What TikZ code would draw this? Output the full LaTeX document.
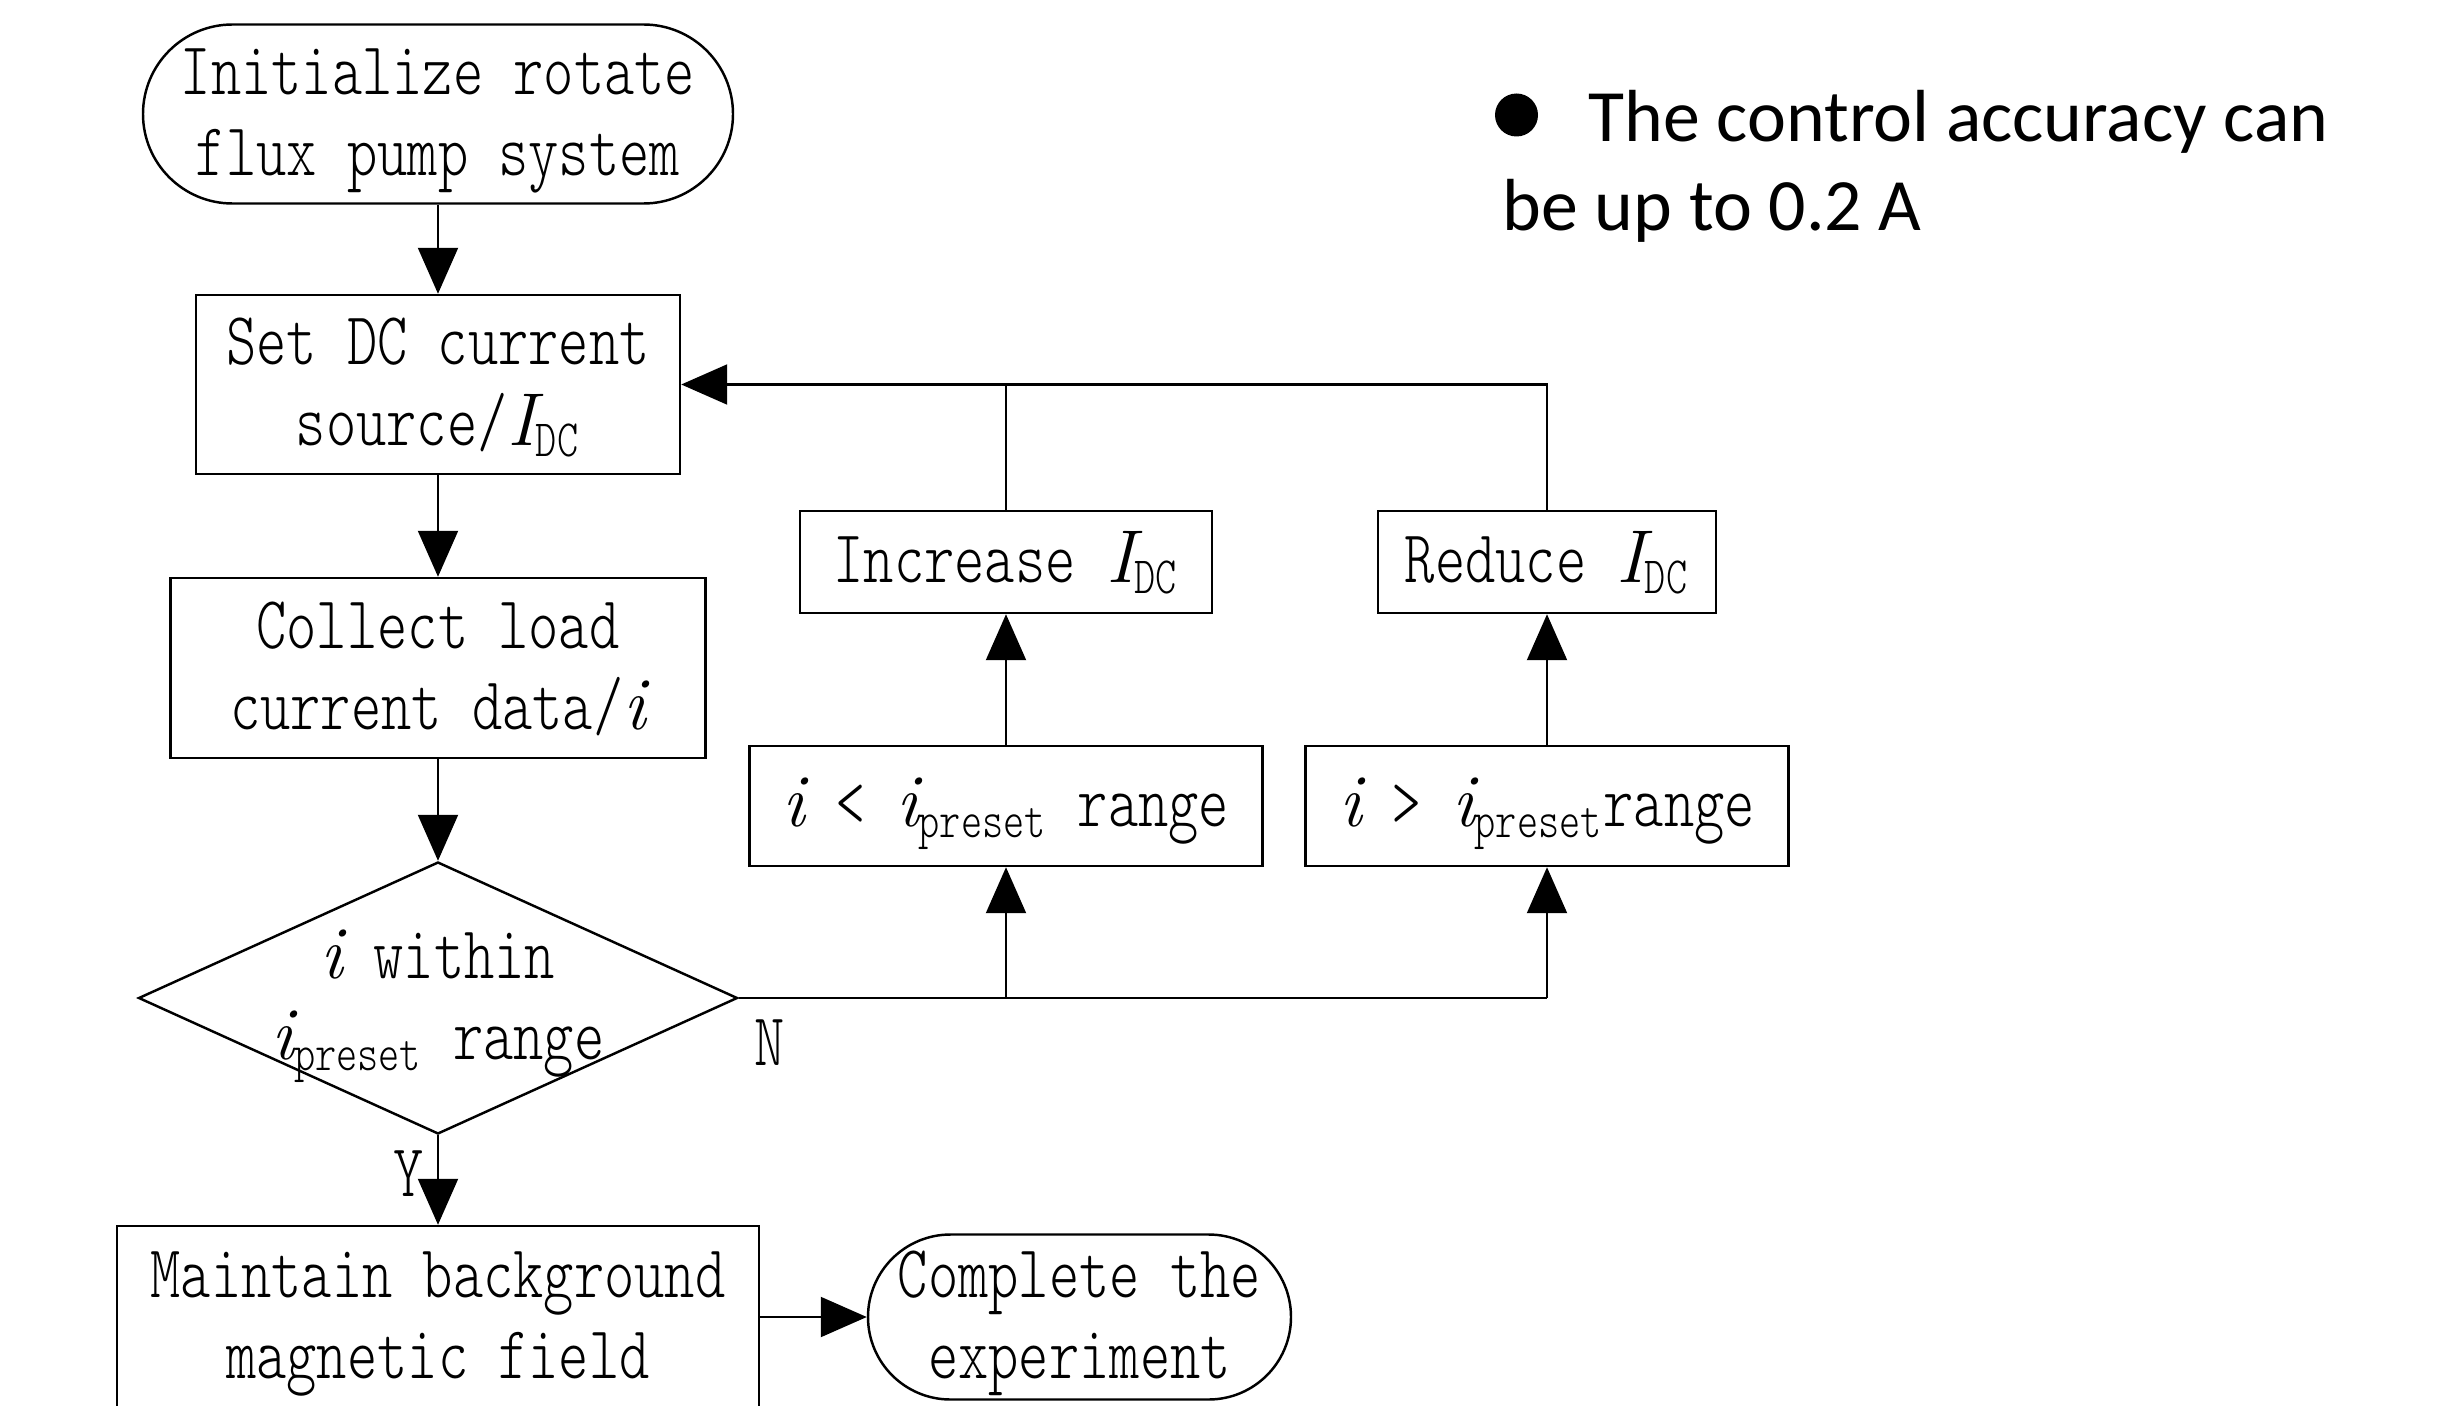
\documentclass[tikz,border=0pt]{standalone}
\usepackage{fontspec}
\usetikzlibrary{arrows.meta,shapes.geometric}
% narrow light serif monospace for the flowchart, serif italic for symbols, sans for the note
\newfontfamily\flowfont[FakeStretch=0.77]{lmmonolt10-regular.otf}
\newfontfamily\notefont{Carlito}
\newcommand\vI{{\rmfamily\itshape I}}
\newcommand\vi{{\rmfamily\itshape i}}
\newcommand\Idc{\vI\textsubscript{DC}}
\newcommand\ipre{\vi\textsubscript{preset}}
% centred lines of a box, drawn a little low while keeping the box size
\newcommand\ftext[1]{\raisebox{-0.045cm}[\height][\depth]{\begin{tabular}{@{}c@{}}#1\end{tabular}}}

\tikzset{
  base/.style={draw, line width=0.7pt, inner sep=0pt,
    font=\flowfont\fontsize{21.3pt}{23pt}\selectfont},
  term/.style={base, rounded corners=#1},
  proc/.style={base, rectangle},
  decision/.style={draw, line width=0.7pt, diamond, inner sep=0pt,
    minimum width=5.99cm, minimum height=2.72cm},
  lbl/.style={inner sep=0pt, font=\flowfont\fontsize{21.3pt}{23pt}\selectfont},
  flowarrow/.style={-{Triangle[length=0.46cm,width=0.40cm]}, line width=0.6pt},
  flowline/.style={line width=0.6pt},
}

\begin{document}
\begin{tikzpicture}
\useasboundingbox (0,0) rectangle (24.45,-14.06);

% main column
\node[term=0.895cm, minimum width=5.90cm, minimum height=1.79cm] (start) at (4.38,-1.14)
  {\ftext{Initialize rotate\\flux pump system}};
\node[proc, minimum width=4.84cm, minimum height=1.79cm] (set) at (4.38,-3.845)
  {\ftext{Set DC current\\source/\Idc}};
\node[proc, minimum width=5.35cm, minimum height=1.80cm] (collect) at (4.38,-6.68)
  {\ftext{Collect load\\current data/\vi}};
\node[decision] (dec) at (4.38,-9.98) {};
\node[lbl] (dectext) at (4.38,-9.98) {\ftext{\vi{} within\\\ipre{} range}};
\node[proc, minimum width=6.42cm, minimum height=1.82cm] (maintain) at (4.38,-13.17)
  {\ftext{Maintain background\\magnetic field}};
\node[term=0.825cm, minimum width=4.23cm, minimum height=1.65cm] (complete) at (10.795,-13.17)
  {\ftext{Complete the\\experiment}};

% correction branch
\node[proc, minimum width=5.13cm, minimum height=1.20cm] (lt) at (10.06,-8.06)
  {\ftext{\vi{} < \ipre{} range}};
\node[proc, minimum width=4.83cm, minimum height=1.20cm] (gt) at (15.47,-8.06)
  {\ftext{\vi{} > \ipre{}range}};
\node[proc, minimum width=4.12cm, minimum height=1.02cm] (inc) at (10.06,-5.62)
  {\ftext{Increase \Idc}};
\node[proc, minimum width=3.38cm, minimum height=1.02cm] (red) at (15.47,-5.62)
  {\ftext{Reduce \Idc}};

% branch labels
\node[lbl] (nlab) at (7.70,-10.43) {N};
\node[lbl] (ylab) at (4.09,-11.74) {Y};

% connectors
\draw[flowarrow] (start) -- (set);
\draw[flowarrow] (set) -- (collect);
\draw[flowarrow] (collect) -- (dec);
\draw[flowarrow] (dec.south) -- (maintain.north);
\draw[flowarrow] (maintain.east) -- (complete.west);
\draw[flowline] (dec.east) -- (gt.south |- dec.east);
\draw[flowarrow] (lt.south |- dec.east) -- (lt.south);
\draw[flowarrow] (gt.south |- dec.east) -- (gt.south);
\draw[flowarrow] (lt.north) -- (inc.south);
\draw[flowarrow] (gt.north) -- (red.south);
\draw[flowline] (inc.north) -- (inc.north |- set.east);
\draw[flowarrow] (red.north) |- (set.east);

% note
\fill (15.165,-1.15) circle (0.215cm);
\node[anchor=base west, align=left, inner sep=0pt,
  font=\notefont\fontsize{21pt}{25.3pt}\selectfont] (note) at (15.02,-2.30)
  {\hspace*{0.86cm}The control accuracy can\\be up to 0.2 A};
\end{tikzpicture}
\end{document}
